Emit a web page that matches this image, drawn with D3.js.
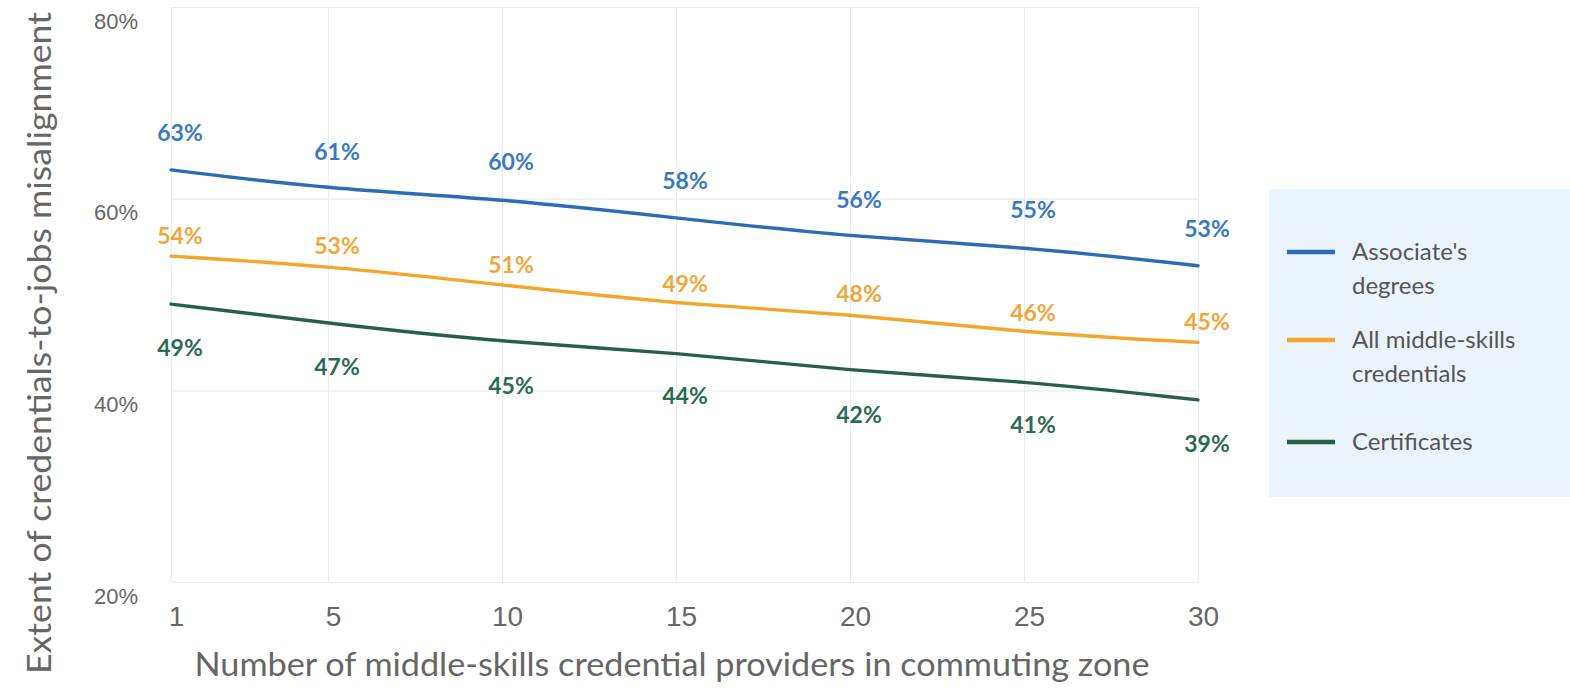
<!DOCTYPE html>
<html>
<head>
<meta charset="utf-8">
<script src="https://cdn.jsdelivr.net/npm/d3@7"></script>
<style>
  html, body { margin: 0; padding: 0; background: #ffffff; }
  svg { display: block; font-family: Lato, "Open Sans", sans-serif; }
</style>
</head>
<body>
<svg id="chart" width="1570" height="688"></svg>
<script>
// Providers in the commuting zone (x categories)
const providers = [1, 5, 10, 15, 20, 25, 30];

// Misalignment share (%) by credential type
const associates = [63, 61, 60, 58, 56, 55, 53];
const allMiddleSkills = [54, 53, 51, 49, 48, 46, 45];
const certificates = [49, 47, 45, 44, 42, 41, 39];

// Axis ticks
const yTicks = [20, 40, 60, 80];
const xTickLabels = ["1", "5", "10", "15", "20", "25", "30"];

const seriesNames = ["Associate's degrees", "All middle-skills credentials", "Certificates"];
const legendLines = [["Associate's", "degrees"], ["All middle-skills", "credentials"], ["Certificates"]];

const series = [
  { name: seriesNames[0], values: associates, color: "#2b6cb4", label: "#3a79c1", dy: -37 },
  { name: seriesNames[1], values: allMiddleSkills, color: "#f2a62c", label: "#f0a63a", dy: -20 },
  { name: seriesNames[2], values: certificates, color: "#285f4a", label: "#2c6a52", dy: 44 }
];

const svg = d3.select("#chart");
const plot = { left: 171, right: 1198, top: 7, bottom: 582 };

// The first step (1 to 5) is drawn narrower than the evenly spaced 5-unit steps
const x = d3.scaleLinear().domain([1, 5, 30]).range([plot.left, 328, plot.right]);
const y = d3.scaleLinear().domain([20, 80]).range([plot.bottom, plot.top]);

const gridColor = "#e4eef7";

// Horizontal gridlines and y tick labels
const yAxis = d3.axisLeft(y).tickValues(yTicks).tickSize(-(plot.right - plot.left))
  .tickFormat(d => d + "%").tickPadding(33);
const gy = svg.append("g").attr("transform", `translate(${plot.left},0)`).call(yAxis);
gy.select(".domain").remove();
gy.selectAll(".tick line").attr("stroke", gridColor).attr("stroke-width", 1.2);
gy.selectAll(".tick text")
  .attr("fill", "#666").attr("font-size", 22).attr("dy", "0.32em")
  .attr("transform", "translate(0,14)");

// Vertical gridlines and x tick labels
const xAxis = d3.axisBottom(x).tickValues(providers).tickSize(-(plot.bottom - plot.top))
  .tickFormat((d, i) => xTickLabels[i]).tickPadding(24);
const gx = svg.append("g").attr("transform", `translate(0,${plot.bottom})`).call(xAxis);
gx.select(".domain").remove();
gx.selectAll(".tick line").attr("stroke", gridColor).attr("stroke-width", 1.2);
gx.selectAll(".tick text").attr("fill", "#666").attr("font-size", 28)
  .attr("transform", "translate(5,0)");

// Axis titles
svg.append("text")
  .attr("x", 672).attr("y", 676)
  .attr("text-anchor", "middle")
  .attr("fill", "#666").attr("font-size", 33)
  .attr("textLength", 955).attr("lengthAdjust", "spacingAndGlyphs")
  .text("Number of middle-skills credential providers in commuting zone");

svg.append("text")
  .attr("transform", "translate(51,343) rotate(-90)")
  .attr("text-anchor", "middle")
  .attr("fill", "#666").attr("font-size", 33)
  .attr("textLength", 662).attr("lengthAdjust", "spacingAndGlyphs")
  .text("Extent of credentials-to-jobs misalignment");

// Series lines
const line = d3.line()
  .x((d, i) => x(providers[i]))
  .y(d => y(d))
  .curve(d3.curveBasis);

const gLines = svg.append("g");
series.forEach(s => {
  gLines.append("path")
    .datum(s.values)
    .attr("fill", "none")
    .attr("stroke", s.color)
    .attr("stroke-width", 3.4)
    .attr("stroke-linecap", "round")
    .attr("d", line);
});

// Value labels
const gLabels = svg.append("g");
series.forEach(s => {
  gLabels.selectAll(null)
    .data(s.values)
    .join("text")
    .attr("x", (d, i) => x(providers[i]) + 9)
    .attr("y", d => y(d) + s.dy)
    .attr("dy", "0.35em")
    .attr("text-anchor", "middle")
    .attr("fill", s.label)
    .attr("font-size", 23)
    .attr("font-weight", 700)
    .text(d => d + "%");
});

// Legend
const legend = svg.append("g");
legend.append("rect")
  .attr("x", 1269).attr("y", 189)
  .attr("width", 1570 - 1269).attr("height", 308)
  .attr("fill", "#ebf4fb");

const legendRowY = [252, 340, 442];
series.forEach((s, i) => {
  const g = legend.append("g").attr("transform", `translate(0,${legendRowY[i]})`);
  g.append("line")
    .attr("x1", 1287).attr("x2", 1335)
    .attr("stroke", s.color).attr("stroke-width", 4.5);
  g.append("text")
    .attr("x", 1352).attr("y", 0)
    .attr("fill", "#555").attr("font-size", 24)
    .selectAll("tspan")
    .data(legendLines[i])
    .join("tspan")
    .attr("x", 1352)
    .attr("dy", (d, j) => j === 0 ? "0.35em" : "1.4em")
    .text(d => d);
});
</script>
</body>
</html>
